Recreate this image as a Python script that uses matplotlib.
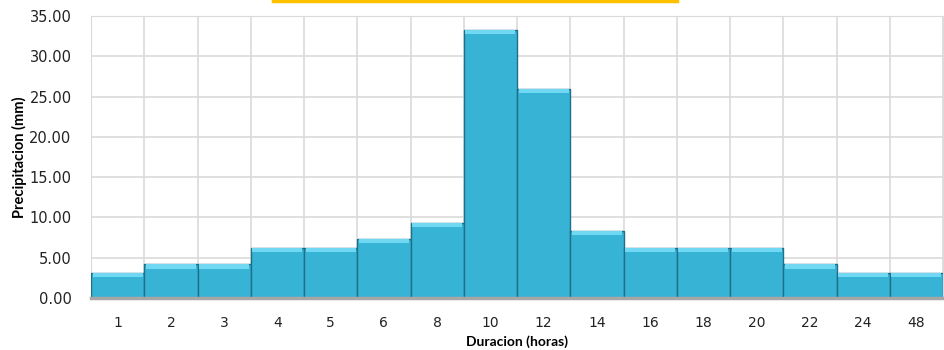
#Precipitation histogram by duration

#import the libraries
import numpy as np
import matplotlib.pyplot as plt
from matplotlib.lines import Line2D

#store the data
duracion = ['1', '2', '3', '4', '5', '6', '8', '10', '12', '14', '16', '18', '20', '22', '24', '48']
precipitacion = [3.12, 4.16, 4.16, 6.24, 6.24, 7.28, 9.36, 33.28, 25.90, 8.32, 6.24, 6.24, 6.24, 4.16, 3.12, 3.12]
y_ticks = [0, 5, 10, 15, 20, 25, 30, 35]

#make the figure
fig = plt.figure(figsize=(9.44, 3.5), dpi=100)
ax = fig.add_axes([0.0964, 0.1486, 0.9026, 0.8054])
ax.set_axisbelow(True)

x = np.arange(len(duracion))
vals = np.array(precipitacion)

#main bars and a lighter band at the top for the bevel look
ax.bar(x, vals, width=1.0, color='#37b3d6', edgecolor='#1f6f86', linewidth=1.0, zorder=3)
ax.bar(x, np.full(len(x), 0.5), bottom=vals - 0.5, width=0.94, color='#70d8f2', linewidth=0, zorder=4)

#grid lines: horizontal on the y ticks, vertical between categories
ax.set_yticks(y_ticks)
ax.set_yticklabels(['%.2f' % v for v in y_ticks], fontsize=10.5, color='#222222')
ax.set_xticks(x)
ax.set_xticklabels(duracion, fontsize=10, color='#222222')
ax.set_xticks(np.arange(-0.5, len(x), 1.0), minor=True)
ax.grid(axis='y', which='major', color='#dadada', linewidth=1.2)
ax.grid(axis='x', which='minor', color='#dadada', linewidth=1.2)
ax.tick_params(axis='both', which='both', length=0)
ax.tick_params(axis='x', pad=13)
ax.tick_params(axis='y', pad=14)

ax.set_xlim(-0.5, len(x) - 0.5)
ax.set_ylim(0, 35)

for s in ['top', 'right', 'left']:
    ax.spines[s].set_color('#dadada')
ax.spines['bottom'].set_color('#a6a6a6')
ax.spines['bottom'].set_linewidth(2.5)
ax.spines['bottom'].set_zorder(5)

ax.set_xlabel('Duracion (horas)', fontsize=10, fontweight='bold', labelpad=4, family='Lato')
ax.set_ylabel('Precipitacion (mm)', fontsize=10.5, fontweight='bold', labelpad=2, family='Lato')

#yellow border of the title box peeking at the top
fig.add_artist(Line2D([0.289, 0.717], [0.997, 0.997], color='#ffc000', linewidth=2.5, transform=fig.transFigure))

plt.savefig('out.png', dpi=100)
